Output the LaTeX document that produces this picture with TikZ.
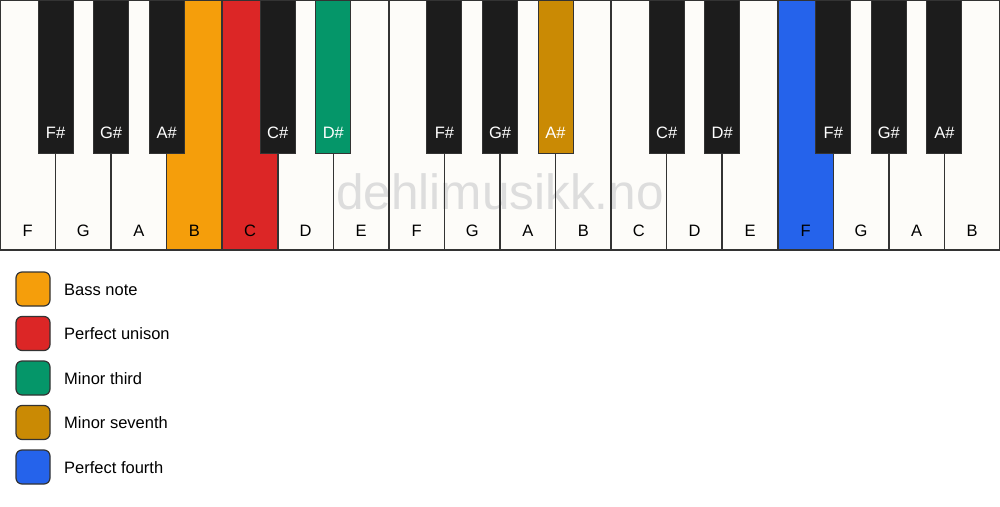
\documentclass[tikz,border=0pt]{standalone}
\usepackage{fontspec}
\setmainfont{Liberation Sans}
\definecolor{wk}{HTML}{FDFCF9}
\definecolor{bk}{HTML}{1C1C1C}
\definecolor{bass}{HTML}{F59E0B}
\definecolor{unison}{HTML}{DC2626}
\definecolor{third}{HTML}{059669}
\definecolor{seventh}{HTML}{CA8A04}
\definecolor{fourth}{HTML}{2563EB}
\definecolor{edge}{HTML}{333333}
\definecolor{wm}{HTML}{DDDDDD}
\tikzset{
  whitekey/.style={anchor=north west, minimum width=55.56pt, minimum height=250pt, inner sep=0pt, outer sep=0pt},
  blackkey/.style={anchor=north, minimum width=35pt, minimum height=153pt, inner sep=0pt, outer sep=0pt, draw=edge, line width=1pt},
  wlabel/.style={font=\fontsize{16.5}{19}\selectfont, text=black},
  blabel/.style={font=\fontsize{16.5}{19}\selectfont, text=white},
  legbox/.style={minimum width=34pt, minimum height=34pt, rounded corners=6pt, draw=edge, line width=1.2pt, inner sep=0pt},
  legtext/.style={anchor=west, font=\fontsize{16.5}{19}\selectfont, text=black, inner sep=0pt}
}
\begin{document}
\begin{tikzpicture}[x=1pt,y=-1pt]
\useasboundingbox (0,0) rectangle (1000,506);
\fill[white] (0,0) rectangle (1000,506);
% white keys (fill)
\foreach \n/\c [count=\i from 0] in {F/wk,G/wk,A/wk,B/bass,C/unison,D/wk,E/wk,F/wk,G/wk,A/wk,B/wk,C/wk,D/wk,E/wk,F/fourth,G/wk,A/wk,B/wk}{
  \node[whitekey, fill=\c] (w\i) at (\i*55.5556,0) {};
}
% watermark
\node[font=\fontsize{49.5}{55}\selectfont, text=wm] (wmark) at (500,192) {dehlimusikk.no};
% white key borders and labels
\foreach \n [count=\i from 0] in {F,G,A,B,C,D,E,F,G,A,B,C,D,E,F,G,A,B}{
  \draw[edge, line width=1.5pt] (w\i.north west) rectangle (w\i.south east);
  \node[wlabel] (wl\i) at (\i*55.5556+27.78,231) {\n};
}
% black keys
\foreach \b/\n/\c in {1/F\#/bk,2/G\#/bk,3/A\#/bk,5/C\#/bk,6/D\#/third,8/F\#/bk,9/G\#/bk,10/A\#/seventh,12/C\#/bk,13/D\#/bk,15/F\#/bk,16/G\#/bk,17/A\#/bk}{
  \node[blackkey, fill=\c] (b\b) at (\b*55.5556,0) {};
  \node[blabel] (bl\b) at (\b*55.5556,133) {\n};
}
% legend
\foreach \c/\t [count=\k from 0] in {bass/Bass note,unison/Perfect unison,third/Minor third,seventh/Minor seventh,fourth/Perfect fourth}{
  \node[legbox, fill=\c] (lb\k) at (33,289+\k*44.5) {};
  \node[legtext] (lt\k) at (64,289.5+\k*44.5) {\t};
}
\end{tikzpicture}
\end{document}
